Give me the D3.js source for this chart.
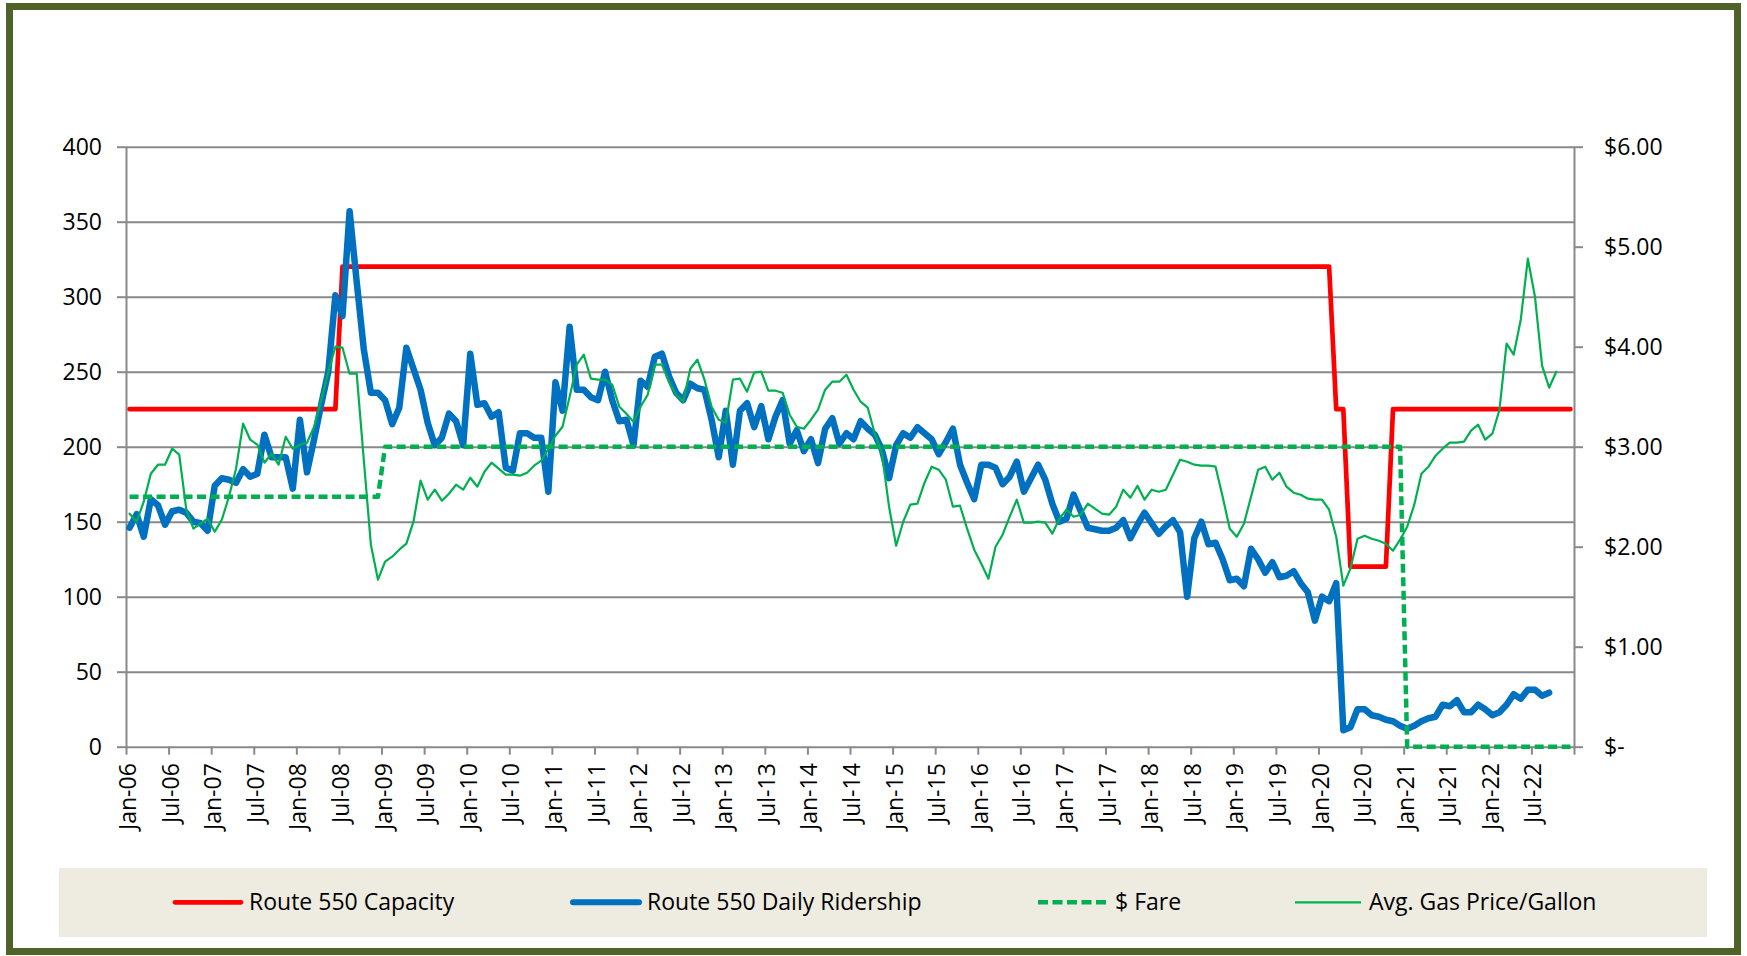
<!DOCTYPE html>
<html>
<head>
<meta charset="utf-8">
<script src="https://cdn.jsdelivr.net/npm/d3@7"></script>
<style>
  html, body { margin: 0; padding: 0; background: #fff; }
  svg { font-family: "Open Sans", sans-serif; font-size: 23px; }
</style>
</head>
<body>
<div id="chart"></div>
<script>
// months run Jan-06 .. Dec-22, one value per month
const tickLabels = [
  'Jan-06','Jul-06','Jan-07','Jul-07','Jan-08','Jul-08','Jan-09','Jul-09',
  'Jan-10','Jul-10','Jan-11','Jul-11','Jan-12','Jul-12','Jan-13','Jul-13',
  'Jan-14','Jul-14','Jan-15','Jul-15','Jan-16','Jul-16','Jan-17','Jul-17',
  'Jan-18','Jul-18','Jan-19','Jul-19','Jan-20','Jul-20','Jan-21','Jul-21',
  'Jan-22','Jul-22'
]

const capacity = [
  225,225,225,225,225,225,225,225,225,225,225,225,
  225,225,225,225,225,225,225,225,225,225,225,225,
  225,225,225,225,225,225,320,320,320,320,320,320,
  320,320,320,320,320,320,320,320,320,320,320,320,
  320,320,320,320,320,320,320,320,320,320,320,320,
  320,320,320,320,320,320,320,320,320,320,320,320,
  320,320,320,320,320,320,320,320,320,320,320,320,
  320,320,320,320,320,320,320,320,320,320,320,320,
  320,320,320,320,320,320,320,320,320,320,320,320,
  320,320,320,320,320,320,320,320,320,320,320,320,
  320,320,320,320,320,320,320,320,320,320,320,320,
  320,320,320,320,320,320,320,320,320,320,320,320,
  320,320,320,320,320,320,320,320,320,320,320,320,
  320,320,320,320,320,320,320,320,320,320,320,320,
  320,320,225,225,120,120,120,120,120,120,225,225,
  225,225,225,225,225,225,225,225,225,225,225,225,
  225,225,225,225,225,225,225,225,225,225,225,225
]

const ridership = [
  146,155,140,165,161,148,157,158,156,150,149,144,
  174,179,178,176,185,180,182,208,193,193,193,172,
  218,183,205,228,250,301,287,357,310,265,236,236,
  231,215,226,266,252,238,216,201,206,222,217,201,
  262,228,229,220,223,186,184,209,209,206,206,170,
  243,224,280,238,238,233,231,250,231,217,218,201,
  244,240,260,262,247,236,231,242,239,238,218,193,
  224,188,224,229,213,227,205,220,231,202,211,197,
  205,189,212,219,202,209,205,217,212,208,198,179,
  201,209,206,213,209,205,195,203,212,188,176,165,
  188,188,186,175,180,190,170,179,188,178,162,150,
  152,168,157,146,145,144,144,146,151,139,148,156,
  149,142,147,151,143,100,139,150,135,136,125,111,
  112,107,132,125,116,123,113,114,117,109,103,84,
  100,97,109,11,13,25,25,21,20,18,17,14,
  12,14,17,19,20,28,27,31,23,23,28,25,
  21,23,28,35,32,38,38,34,36
]

const fare = [
  2.5,2.5,2.5,2.5,2.5,2.5,2.5,2.5,2.5,2.5,2.5,2.5,
  2.5,2.5,2.5,2.5,2.5,2.5,2.5,2.5,2.5,2.5,2.5,2.5,
  2.5,2.5,2.5,2.5,2.5,2.5,2.5,2.5,2.5,2.5,2.5,2.5,
  3,3,3,3,3,3,3,3,3,3,3,3,
  3,3,3,3,3,3,3,3,3,3,3,3,
  3,3,3,3,3,3,3,3,3,3,3,3,
  3,3,3,3,3,3,3,3,3,3,3,3,
  3,3,3,3,3,3,3,3,3,3,3,3,
  3,3,3,3,3,3,3,3,3,3,3,3,
  3,3,3,3,3,3,3,3,3,3,3,3,
  3,3,3,3,3,3,3,3,3,3,3,3,
  3,3,3,3,3,3,3,3,3,3,3,3,
  3,3,3,3,3,3,3,3,3,3,3,3,
  3,3,3,3,3,3,3,3,3,3,3,3,
  3,3,3,3,3,3,3,3,3,3,3,3,
  0,0,0,0,0,0,0,0,0,0,0,0,
  0,0,0,0,0,0,0,0,0,0,0,0
]

const gasPrice = [
  2.33,2.25,2.45,2.73,2.82,2.82,2.98,2.92,2.37,2.18,2.23,2.28,
  2.15,2.27,2.50,2.78,3.23,3.07,3.02,2.84,2.93,2.82,3.10,2.98,
  3.02,3.04,3.20,3.47,3.75,4.00,3.99,3.73,3.73,2.87,2.02,1.67,
  1.85,1.90,1.97,2.03,2.25,2.66,2.47,2.57,2.46,2.53,2.62,2.57,
  2.69,2.60,2.75,2.84,2.78,2.72,2.72,2.71,2.74,2.81,2.86,2.98,
  3.11,3.20,3.50,3.82,3.92,3.68,3.67,3.67,3.62,3.40,3.33,3.25,
  3.40,3.52,3.82,3.82,3.65,3.52,3.45,3.78,3.87,3.67,3.40,3.27,
  3.24,3.67,3.68,3.55,3.74,3.75,3.56,3.56,3.54,3.32,3.20,3.18,
  3.27,3.37,3.57,3.65,3.65,3.72,3.57,3.45,3.39,3.13,2.93,2.40,
  2.01,2.25,2.42,2.43,2.64,2.80,2.77,2.67,2.40,2.41,2.18,1.97,
  1.83,1.68,2.00,2.12,2.30,2.47,2.24,2.24,2.25,2.24,2.13,2.28,
  2.37,2.30,2.32,2.43,2.38,2.33,2.32,2.40,2.57,2.49,2.61,2.47,
  2.57,2.55,2.57,2.72,2.87,2.85,2.82,2.81,2.81,2.80,2.50,2.18,
  2.10,2.23,2.50,2.77,2.80,2.67,2.74,2.60,2.54,2.52,2.48,2.47,
  2.47,2.37,2.10,1.61,1.78,2.08,2.11,2.08,2.06,2.03,1.96,2.07,
  2.20,2.42,2.73,2.80,2.91,2.98,3.04,3.04,3.05,3.16,3.22,3.07,
  3.13,3.37,4.03,3.92,4.27,4.88,4.50,3.81,3.59,3.75
]

const legendNames = ['Route 550 Capacity', 'Route 550 Daily Ridership', '$ Fare', 'Avg. Gas Price/Gallon']

const width = 1747
const height = 956
const plot = {left: 126, right: 1574, top: 146.7, bottom: 746.7}
const gridColor = '#898989'

const svg = d3.select('#chart').append('svg')
  .attr('width', width)
  .attr('height', height)

svg.append('rect')
  .attr('width', width).attr('height', height)
  .attr('fill', '#fff')

const x = d3.scaleLinear().domain([0, 204]).range([plot.left, plot.right])
const yLeft = d3.scaleLinear().domain([0, 400]).range([plot.bottom, plot.top])
const yRight = d3.scaleLinear().domain([0, 6]).range([plot.bottom, plot.top])

// gridlines
svg.append('g')
  .attr('transform', `translate(${plot.left},0)`)
  .call(d3.axisLeft(yLeft).tickValues(d3.range(50, 401, 50))
    .tickSize(-(plot.right - plot.left)).tickFormat(''))
  .call(g => g.select('.domain').remove())
  .selectAll('line').attr('stroke', gridColor).attr('stroke-width', 2)

const styleAxis = g => {
  g.selectAll('.domain').attr('stroke', gridColor).attr('stroke-width', 2)
  g.selectAll('.tick line').attr('stroke', gridColor).attr('stroke-width', 2)
  g.selectAll('text').attr('fill', '#000').attr('font-size', 23)
    .attr('font-family', '"Open Sans", sans-serif')
}

svg.append('g')
  .attr('transform', `translate(${plot.left},0)`)
  .call(d3.axisLeft(yLeft).tickValues(d3.range(0, 401, 50))
    .tickSize(9).tickSizeOuter(0).tickPadding(15))
  .call(styleAxis)
  .selectAll('text').attr('dy', '0.35em')

svg.append('g')
  .attr('transform', `translate(${plot.right},0)`)
  .call(d3.axisRight(yRight).tickValues(d3.range(0, 7))
    .tickSize(9).tickSizeOuter(0).tickPadding(21)
    .tickFormat(d => d === 0 ? '$-' : d3.format('$.2f')(d)))
  .call(styleAxis)
  .selectAll('text').attr('dy', '0.35em')

svg.append('g')
  .attr('transform', `translate(0,${plot.bottom})`)
  .call(d3.axisBottom(x).tickValues(d3.range(0, 205, 6))
    .tickSize(8).tickSizeOuter(0)
    .tickFormat(d => tickLabels[d / 6] || ''))
  .call(styleAxis)
  .selectAll('text')
    .attr('transform', 'rotate(-90)')
    .attr('text-anchor', 'end')
    .attr('x', -16.5)
    .attr('y', 1.5)
    .attr('dy', '0.35em')

// series
const lineOn = (scale) => d3.line()
  .x((d, i) => x(i + 0.5))
  .y(d => scale(d))

const series = [
  {data: capacity, scale: yLeft, color: '#ff0000', w: 4.7, dash: null, cap: 'round'},
  {data: ridership, scale: yLeft, color: '#0070c0', w: 6.5, dash: null, cap: 'round'},
  {data: fare, scale: yRight, color: '#00b050', w: 4.5, dash: '9,4.5', cap: 'butt'},
  {data: gasPrice, scale: yRight, color: '#00b050', w: 2.2, dash: null, cap: 'round'}
]

svg.append('g')
  .selectAll('path')
  .data(series)
  .enter()
  .append('path')
    .attr('d', s => lineOn(s.scale)(s.data))
    .attr('fill', 'none')
    .attr('stroke', s => s.color)
    .attr('stroke-width', s => s.w)
    .attr('stroke-dasharray', s => s.dash)
    .attr('stroke-linejoin', 'round')
    .attr('stroke-linecap', s => s.cap)

// legend
const legend = svg.append('g')
legend.append('rect')
  .attr('x', 59).attr('y', 868)
  .attr('width', 1648).attr('height', 69)
  .attr('fill', '#eeece1')

const legendX = [175, 573, 1038, 1295]
const item = legend.selectAll('g.item')
  .data(series)
  .enter()
  .append('g')
    .attr('class', 'item')
    .attr('transform', (d, i) => `translate(${legendX[i]},902.3)`)

item.append('line')
  .attr('x1', 0).attr('x2', s => s.dash ? 70 : 66)
  .attr('stroke', s => s.color)
  .attr('stroke-width', s => Math.min(s.w, 6))
  .attr('stroke-dasharray', s => s.dash ? '10,4.5' : null)
  .attr('stroke-linecap', s => s.w > 3 && !s.dash ? 'round' : 'butt')

item.append('text')
  .attr('x', (d, i) => i === 2 ? 77 : 74)
  .attr('dy', '0.35em')
  .text((d, i) => legendNames[i])

// outer frame
svg.append('rect')
  .attr('x', 9.5).attr('y', 6.5)
  .attr('width', 1728).attr('height', 945)
  .attr('fill', 'none')
  .attr('stroke', '#4f6228')
  .attr('stroke-width', 7)
</script>
</body>
</html>
